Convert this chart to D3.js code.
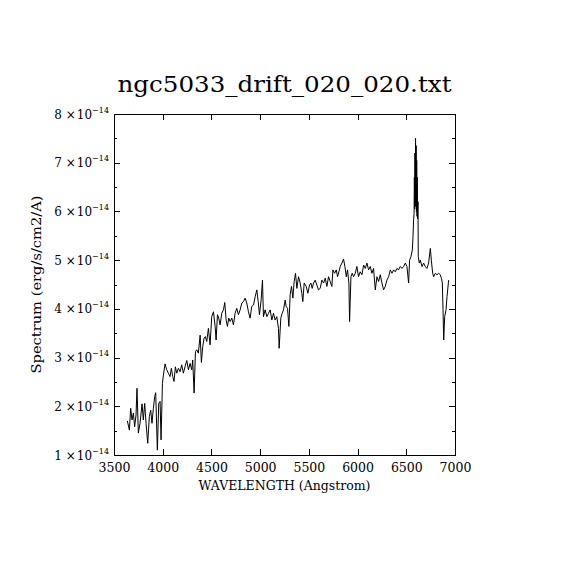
<!DOCTYPE html>
<html>
<head>
<meta charset="utf-8">
<script src="https://cdn.jsdelivr.net/npm/d3@7"></script>
<style>
  body { margin: 0; background: #fff; }
  text { font-family: "DejaVu Serif", "Liberation Serif", serif; fill: #000; }
  .axis path, .axis line { stroke: #000; shape-rendering: crispEdges; }
</style>
</head>
<body>
<div id="chart"></div>
<script>
// spectrum (flux in units of 1e-14 erg/s/cm2/A)
const wavelength = [
  3637, 3658, 3671, 3685, 3699, 3712, 3726, 3736, 3750, 3767, 3788, 3801, 3815, 3829, 3846, 3863,
  3877, 3890, 3904, 3918, 3928, 3945, 3959, 3973, 3983, 3997, 4007, 4024, 4041, 4058, 4075, 4089,
  4103, 4116, 4130, 4144, 4161, 4178, 4195, 4212, 4229, 4247, 4264, 4281, 4298, 4308, 4322, 4336,
  4349, 4366, 4384, 4397, 4411, 4425, 4438, 4452, 4469, 4486, 4503, 4521, 4538, 4548, 4562, 4575,
  4589, 4606, 4623, 4637, 4651, 4664, 4678, 4692, 4709, 4726, 4743, 4760, 4777, 4795, 4812, 4829,
  4846, 4863, 4880, 4897, 4914, 4932, 4949, 4966, 4980, 4993, 5010, 5024, 5034, 5051, 5069, 5086,
  5103, 5120, 5137, 5154, 5171, 5188, 5195, 5212, 5226, 5240, 5257, 5267, 5281, 5295, 5308, 5322,
  5336, 5349, 5363, 5377, 5394, 5411, 5428, 5438, 5452, 5473, 5490, 5507, 5521, 5534, 5548, 5565,
  5582, 5599, 5616, 5634, 5651, 5668, 5685, 5702, 5719, 5736, 5747, 5764, 5781, 5795, 5808, 5822,
  5839, 5856, 5870, 5884, 5897, 5911, 5918, 5932, 5945, 5959, 5976, 5993, 6010, 6027, 6045, 6062,
  6079, 6096, 6113, 6130, 6147, 6164, 6182, 6199, 6216, 6233, 6250, 6267, 6284, 6301, 6319, 6336,
  6353, 6370, 6387, 6404, 6421, 6438, 6456, 6473, 6490, 6507, 6524, 6534, 6548, 6562, 6569, 6575,
  6580, 6583, 6586, 6589, 6592, 6595, 6598, 6601, 6604, 6607, 6610, 6613, 6616, 6620, 6623, 6634,
  6644, 6661, 6678, 6695, 6712, 6729, 6747, 6757, 6771, 6781, 6798, 6815, 6832, 6849, 6860, 6870,
  6877, 6884, 6894, 6908, 6918, 6935
];
const flux = [
  1.70, 1.51, 1.96, 1.72, 1.86, 1.58, 1.82, 2.37, 1.45, 1.65, 2.05, 1.72, 2.06, 1.65, 1.24, 1.79,
  1.92, 1.65, 1.96, 2.20, 2.28, 1.10, 2.06, 2.10, 1.31, 2.47, 2.64, 2.87, 2.75, 2.68, 2.61, 2.78,
  2.61, 2.51, 2.81, 2.68, 2.78, 2.71, 2.85, 2.68, 2.81, 2.94, 2.75, 2.88, 2.75, 2.95, 2.27, 3.12,
  3.16, 3.09, 3.46, 2.90, 3.23, 3.40, 3.43, 3.33, 3.60, 3.26, 3.84, 3.94, 3.64, 3.36, 3.88, 3.81,
  3.67, 3.91, 3.98, 4.13, 3.77, 3.64, 3.81, 3.74, 3.81, 3.67, 3.91, 4.01, 3.88, 3.98, 4.12, 4.15,
  4.22, 4.12, 3.94, 3.81, 4.05, 4.08, 4.25, 4.39, 4.15, 3.88, 4.18, 4.59, 3.84, 3.98, 3.84, 3.91,
  3.98, 3.77, 3.91, 3.77, 3.84, 3.60, 3.19, 3.81, 3.91, 3.98, 4.18, 4.05, 4.01, 3.64, 4.29, 4.46,
  4.22, 4.56, 4.73, 4.42, 4.66, 4.53, 4.32, 4.15, 4.53, 4.46, 4.32, 4.49, 4.53, 4.42, 4.53, 4.59,
  4.49, 4.39, 4.42, 4.59, 4.53, 4.63, 4.46, 4.66, 4.56, 4.46, 4.80, 4.73, 4.80, 4.66, 4.76, 4.87,
  4.94, 5.02, 4.87, 4.66, 4.80, 4.53, 3.74, 4.66, 4.73, 4.66, 4.73, 4.87, 4.66, 4.76, 4.70, 4.90,
  4.83, 4.94, 4.80, 4.87, 4.73, 4.83, 4.39, 4.66, 4.56, 4.70, 4.53, 4.39, 4.46, 4.59, 4.66, 4.80,
  4.73, 4.80, 4.76, 4.83, 4.80, 4.87, 4.83, 4.87, 4.94, 4.87, 4.53, 5.00, 5.07, 5.21, 5.48, 5.83,
  5.96, 6.70, 6.05, 7.20, 6.10, 7.50, 6.20, 7.35, 6.00, 7.05, 5.90, 6.70, 5.85, 6.20, 5.07, 4.94,
  5.00, 4.87, 4.94, 4.87, 4.83, 4.94, 5.24, 5.00, 4.73, 4.66, 4.73, 4.70, 4.73, 4.70, 4.63, 4.53,
  3.98, 3.36, 3.84, 3.98, 4.25, 4.59
];

const titleText = "ngc5033_drift_020_020.txt";
const xLabel = "WAVELENGTH (Angstrom)";
const yLabel = "Spectrum (erg/s/cm2/A)";
const xTicks = [3500, 4000, 4500, 5000, 5500, 6000, 6500, 7000];
const yTicks = [1, 2, 3, 4, 5, 6, 7, 8];
const yMinorTicks = [1.5, 2.5, 3.5, 4.5, 5.5, 6.5, 7.5];
const yExponent = "\u221214";

const margin = { top: 114, right: 115, bottom: 115, left: 114 };
const width = 570 - margin.left - margin.right;
const height = 570 - margin.top - margin.bottom;

const svg = d3.select("#chart")
  .append("svg")
  .attr("width", 570)
  .attr("height", 570);

const g = svg.append("g")
  .attr("transform", `translate(${margin.left},${margin.top})`);

const x = d3.scaleLinear().domain([3500, 7000]).range([0, width]);
const y = d3.scaleLinear().domain([1, 8]).range([height, 0]);

// bottom axis with labels, ticks pointing inward
g.append("g")
  .attr("class", "axis")
  .attr("transform", `translate(0,${height})`)
  .call(d3.axisBottom(x).tickValues(xTicks).tickSize(-6).tickSizeOuter(0).tickPadding(8).tickFormat(d3.format("d")))
  .call((a) => a.selectAll("text").attr("font-size", 12.5).style("font-family", "DejaVu Serif"));

// top axis
g.append("g")
  .attr("class", "axis")
  .call(d3.axisTop(x).tickValues(xTicks).tickSize(-6).tickSizeOuter(0).tickFormat(""));

// left axis, labels drawn by hand as a x 10^-14
const left = g.append("g")
  .attr("class", "axis")
  .call(d3.axisLeft(y).tickValues(yTicks).tickSize(-6).tickSizeOuter(0).tickFormat(""));

left.selectAll(".tick").append("text")
  .attr("x", -5)
  .attr("y", 4)
  .attr("text-anchor", "end")
  .attr("font-size", 12)
  .style("font-family", "DejaVu Serif")
  .attr("fill", "#000")
  .each(function (d) {
    const t = d3.select(this);
    t.append("tspan").text(d + " \u00d7");
    t.append("tspan").attr("dx", 1).text("10");
    t.append("tspan").attr("dy", -6).attr("font-size", 8).text(yExponent);
  });

// right axis
g.append("g")
  .attr("class", "axis")
  .attr("transform", `translate(${width},0)`)
  .call(d3.axisRight(y).tickValues(yTicks).tickSize(-6).tickSizeOuter(0).tickFormat(""));

// minor ticks on both y sides
g.append("g")
  .attr("class", "axis")
  .call(d3.axisLeft(y).tickValues(yMinorTicks).tickSize(-3).tickSizeOuter(0).tickFormat(""));
g.append("g")
  .attr("class", "axis")
  .attr("transform", `translate(${width},0)`)
  .call(d3.axisRight(y).tickValues(yMinorTicks).tickSize(-3).tickSizeOuter(0).tickFormat(""));

// the spectrum
const line = d3.line()
  .x((d, i) => x(wavelength[i]))
  .y((d) => y(d));

g.append("path")
  .datum(flux)
  .attr("fill", "none")
  .attr("stroke", "#000")
  .attr("stroke-width", 1)
  .attr("stroke-linejoin", "miter")
  .attr("d", line);

// title and axis titles
svg.append("text")
  .attr("x", margin.left + width / 2)
  .attr("y", 92)
  .attr("text-anchor", "middle")
  .attr("font-size", 22)
  .attr("textLength", 334)
  .attr("lengthAdjust", "spacingAndGlyphs")
  .text(titleText);

svg.append("text")
  .attr("x", margin.left + width / 2)
  .attr("y", 490)
  .attr("text-anchor", "middle")
  .attr("font-size", 12)
  .attr("textLength", 172)
  .attr("lengthAdjust", "spacingAndGlyphs")
  .text(xLabel);

svg.append("text")
  .attr("transform", `translate(41,${margin.top + height / 2}) rotate(-90)`)
  .attr("text-anchor", "middle")
  .attr("font-size", 12)
  .attr("textLength", 178)
  .attr("lengthAdjust", "spacingAndGlyphs")
  .text(yLabel);
</script>
</body>
</html>
